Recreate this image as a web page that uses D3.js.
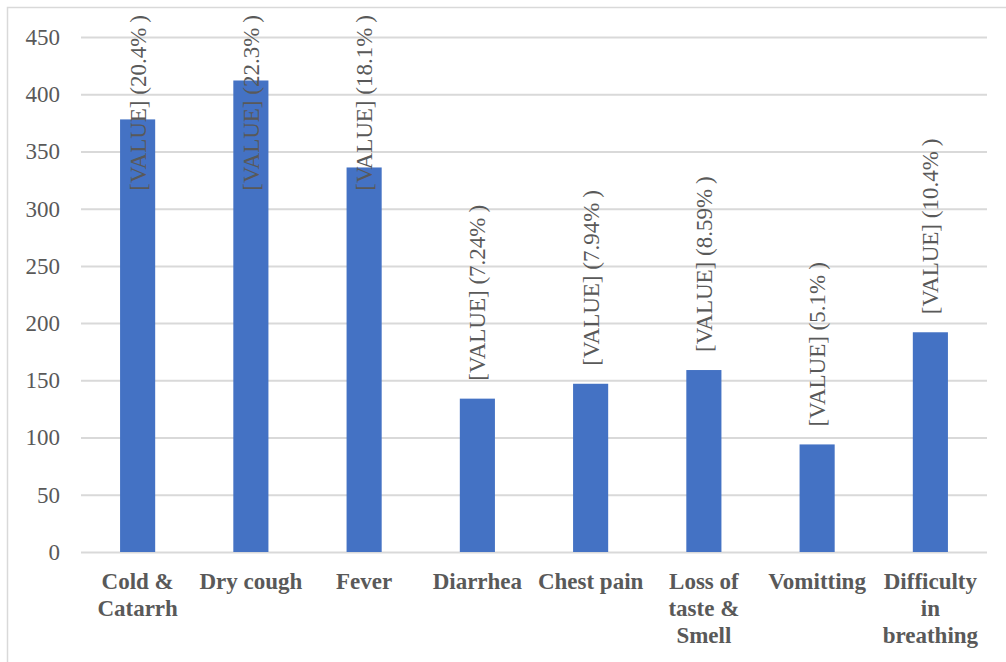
<!DOCTYPE html>
<html>
<head>
<meta charset="utf-8">
<script src="https://cdn.jsdelivr.net/npm/d3@7"></script>
<style>
  html, body { margin: 0; padding: 0; background: #fff; }
  svg { display: block; }
</style>
</head>
<body>
<svg id="chart" width="1006" height="662"></svg>
<script>
// Reported symptoms: counts and share of all mentions
const categories = ["Cold & Catarrh", "Dry cough", "Fever", "Diarrhea", "Chest pain",
                    "Loss of taste & Smell", "Vomitting", "Difficulty in breathing"];
const counts = [378, 412, 336, 134, 147, 159, 94, 192];
const shares = ["20.4%", "22.3%", "18.1%", "7.24%", "7.94%", "8.59%", "5.1%", "10.4%"];
const yTicks = [0, 50, 100, 150, 200, 250, 300, 350, 400, 450];

const svg = d3.select("#chart");
const font = "'Liberation Serif', 'Times New Roman', serif";
const textColor = "#595959";
const gridColor = "#d9d9d9";

// chart frame
svg.append("rect")
  .attr("x", 7.5).attr("y", 7.5)
  .attr("width", 1020).attr("height", 700)
  .attr("fill", "none").attr("stroke", gridColor).attr("stroke-width", 1.5);

const plot = { left: 81, right: 987, top: 37, bottom: 552 };

const x = d3.scaleBand()
  .domain(categories)
  .range([plot.left, plot.right])
  .paddingInner(0.69)
  .paddingOuter(0.345);

const y = d3.scaleLinear()
  .domain([0, 450])
  .range([plot.bottom, plot.top]);

// horizontal gridlines + value labels
const yAxis = d3.axisLeft(y)
  .tickValues(yTicks)
  .tickSize(-(plot.right - plot.left))
  .tickPadding(21);

const gy = svg.append("g")
  .attr("transform", `translate(${plot.left},0)`)
  .call(yAxis);
gy.select(".domain").remove();
gy.selectAll(".tick line").attr("stroke", gridColor).attr("stroke-width", 2);
gy.selectAll(".tick text")
  .attr("fill", textColor)
  .style("font-family", font)
  .style("font-size", "23px");

// bars
svg.append("g").selectAll("rect")
  .data(categories)
  .join("rect")
  .attr("x", d => x(d))
  .attr("width", x.bandwidth())
  .attr("y", (d, i) => y(counts[i]))
  .attr("height", (d, i) => y(0) - y(counts[i]))
  .attr("fill", "#4472C4");

// category labels, wrapped to the band step
const step = x.step();
const gx = svg.append("g");
categories.forEach((name, i) => {
  const cx = x(name) + x.bandwidth() / 2;
  const t = gx.append("text")
    .attr("x", cx)
    .attr("y", 589)
    .attr("text-anchor", "middle")
    .attr("fill", textColor)
    .style("font-family", font)
    .style("font-size", "23px")
    .style("font-weight", "bold");
  const words = name.split(" ");
  let line = [];
  let tspan = t.append("tspan").attr("x", cx).attr("dy", 0);
  words.forEach(w => {
    line.push(w);
    tspan.text(line.join(" "));
    if (tspan.node().getComputedTextLength() > step - 2 && line.length > 1) {
      line.pop();
      tspan.text(line.join(" "));
      line = [w];
      tspan = t.append("tspan")
        .attr("x", cx)
        .attr("dy", 27)
        .text(w);
    }
  });
});

// rotated data labels above each bar, kept inside the chart's top edge
const labels = svg.append("g");
categories.forEach((name, i) => {
  const cx = x(name) + x.bandwidth() / 2;
  const t = labels.append("text")
    .attr("text-anchor", "start")
    .attr("dy", "0.35em")
    .attr("fill", textColor)
    .style("font-family", font)
    .style("font-size", "23px");
  t.append("tspan").text(`[VALUE] (${shares[i]}`);
  t.append("tspan").attr("dx", 5).text(")");
  const len = t.node().getComputedTextLength() + 5;
  const startY = Math.max(y(counts[i]) - 18, 15 + len);
  t.attr("transform", `translate(${cx},${startY}) rotate(-90)`);
});
</script>
</body>
</html>
